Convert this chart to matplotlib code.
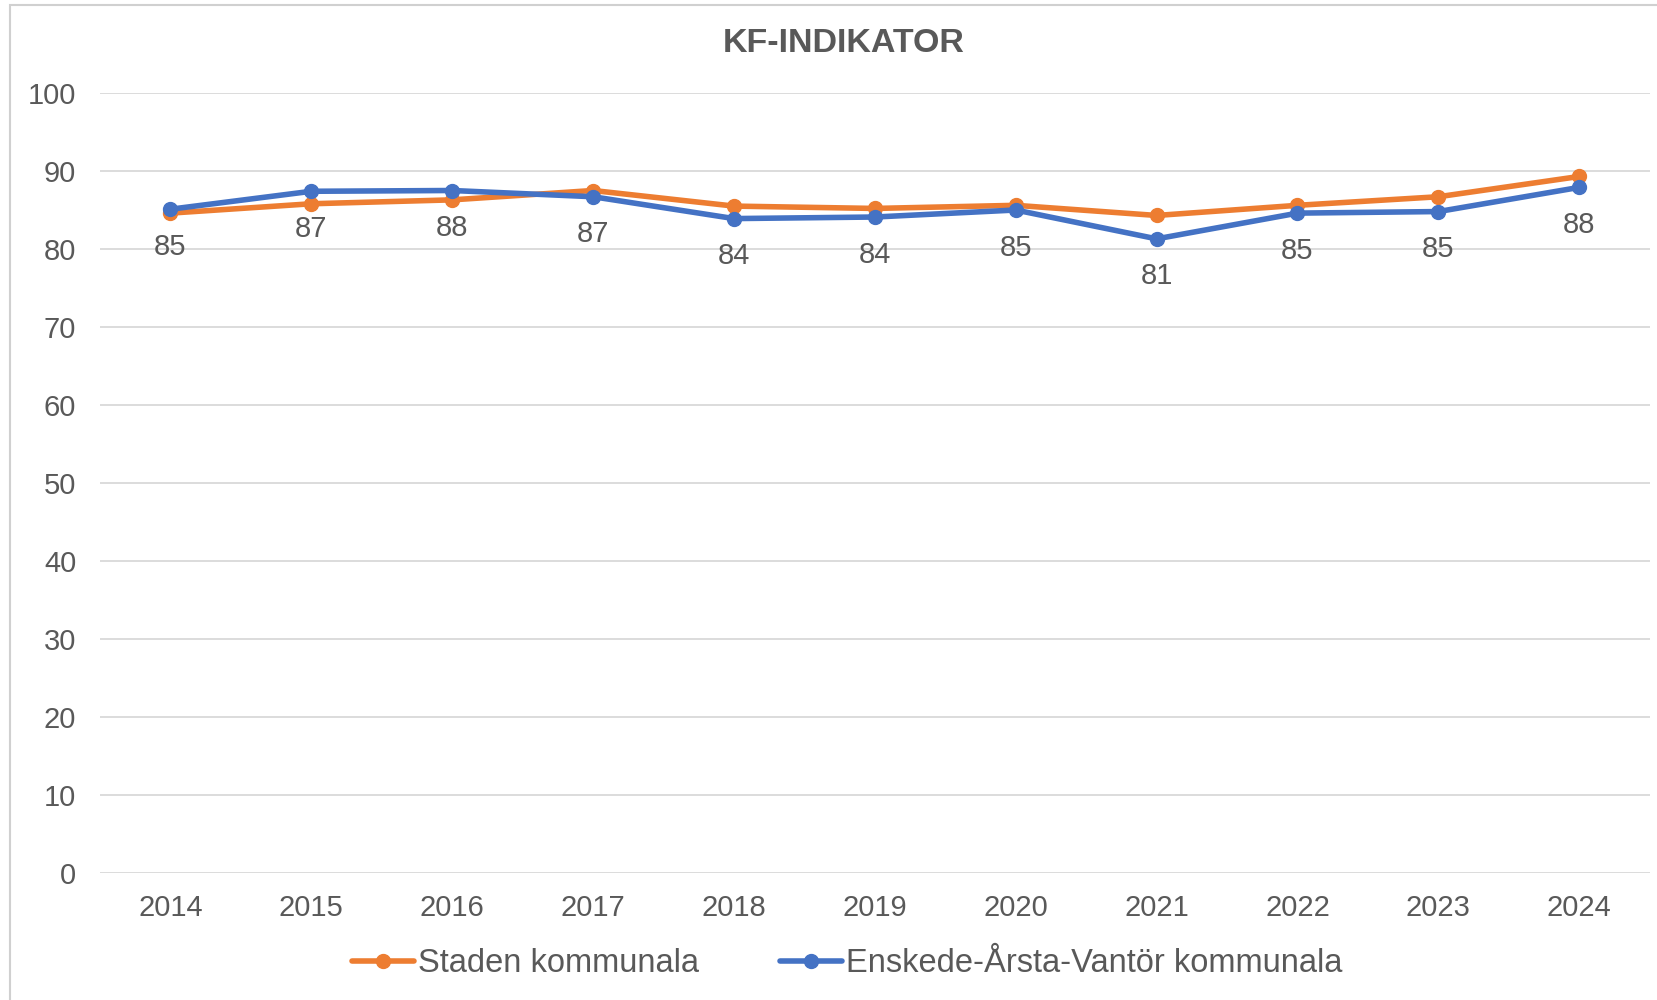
import matplotlib
matplotlib.use("Agg")
import matplotlib.pyplot as plt
from matplotlib.patches import Rectangle

years = ["2014", "2015", "2016", "2017", "2018", "2019",
         "2020", "2021", "2022", "2023", "2024"]
staden = [84.6, 85.8, 86.3, 87.5, 85.5, 85.2, 85.6, 84.3, 85.6, 86.7, 89.3]
enskede = [85.1, 87.4, 87.5, 86.7, 83.9, 84.1, 85.0, 81.3, 84.6, 84.8, 87.9]
yticks = [0, 10, 20, 30, 40, 50, 60, 70, 80, 90, 100]

TEXT = "#595959"
GRID = "#D9D9D9"
ORANGE = "#ED7D31"
BLUE = "#4472C4"

plt.rcParams["font.family"] = ["Liberation Sans", "DejaVu Sans"]

fig = plt.figure(figsize=(16.58, 10), dpi=100)
ax = fig.add_axes([0.0603, 0.127, 0.9347, 0.78])

x = list(range(len(years)))
ax.plot(x, staden, color=ORANGE, lw=4, marker="o", ms=10,
        label="Staden kommunala", solid_capstyle="round")
ax.plot(x, enskede, color=BLUE, lw=4, marker="o", ms=10,
        label="Enskede-Årsta-Vantör kommunala", solid_capstyle="round")

for xi, v in zip(x, enskede):
    ax.annotate("%.0f" % v, (xi, v), xytext=(0, -27), textcoords="offset points",
                ha="center", va="center", fontsize=21, color=TEXT)

ax.set_xlim(-0.5, len(years) - 0.5)
ax.set_ylim(0, 100)
ax.set_yticks(yticks)
ax.set_xticks(x)
ax.set_xticklabels(years)
ax.tick_params(length=0, labelsize=21, labelcolor=TEXT)
ax.tick_params(axis="y", pad=17)
ax.tick_params(axis="x", pad=15)
ax.grid(axis="y", color=GRID, lw=1.3)
ax.set_axisbelow(True)
for s in ax.spines.values():
    s.set_visible(False)

fig.text(0.509, 0.957, "KF-INDIKATOR", ha="center", va="center",
         fontsize=24.5, fontweight="bold", color=TEXT)

ax.legend(loc="center", bbox_to_anchor=(0.511, 0.036), bbox_transform=fig.transFigure,
          ncol=2, frameon=False, fontsize=23.5, labelcolor=TEXT,
          handlelength=1.9, handletextpad=0.1, columnspacing=2.5)

fig.patches.append(Rectangle((0.006, -0.01), 1.1, 1.005, transform=fig.transFigure,
                             fill=False, edgecolor="#D0D0D0", lw=1.5))

fig.savefig("out.png", dpi=100)
